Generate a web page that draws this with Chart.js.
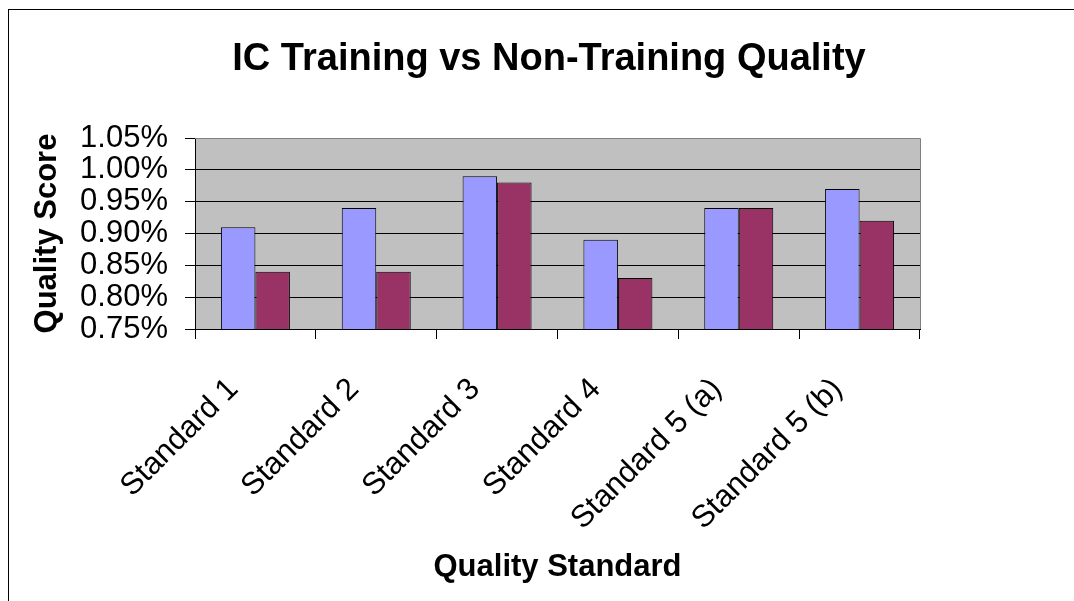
<!DOCTYPE html>
<html>
<head>
<meta charset="utf-8">
<title>IC Training vs Non-Training Quality</title>
<script src="https://cdn.jsdelivr.net/npm/chart.js@4.4.1/dist/chart.umd.min.js"></script>
<style>
    html, body { margin: 0; padding: 0; background: #fff; overflow: hidden; }
    #wrap { position: relative; width: 1074px; height: 601px; }
    #frame {
        position: absolute; left: 8px; top: 9px; width: 2000px; height: 2000px;
        border-left: 1px solid #000; border-top: 1px solid #000; pointer-events: none;
    }
</style>
</head>
<body>
<div id="wrap">
    <canvas id="qualityChart" width="1074" height="601"></canvas>
    <div id="frame"></div>
</div>
<script>
// Chart data (values in %)
const standards = ['Standard 1', 'Standard 2', 'Standard 3', 'Standard 4', 'Standard 5 (a)', 'Standard 5 (b)'];
const trainingScores = [0.91, 0.94, 0.99, 0.89, 0.94, 0.97];
const nonTrainingScores = [0.84, 0.84, 0.98, 0.83, 0.94, 0.92];
const yTickLabels = ['0.75%', '0.80%', '0.85%', '0.90%', '0.95%', '1.00%', '1.05%'];

const FONT = '"Liberation Sans", Arial, Helvetica, sans-serif';
const ctx = document.getElementById('qualityChart').getContext('2d');
let qualityChart;

// gray plot area + gray top/right border, like the old Excel chart
const plotAreaPlugin = {
    id: 'plotArea',
    beforeDraw(chart) {
        const a = chart.chartArea;
        const c = chart.ctx;
        c.save();
        c.fillStyle = '#C0C0C0';
        c.fillRect(a.left, a.top, a.right - a.left, a.bottom - a.top);
        c.restore();
    },
    afterDatasetsDraw(chart) {
        const a = chart.chartArea;
        const c = chart.ctx;
        c.save();
        c.strokeStyle = '#808080';
        c.lineWidth = 1;
        c.beginPath();
        c.moveTo(a.left, Math.round(a.top) + 0.5);
        c.lineTo(Math.round(a.right) + 0.5, Math.round(a.top) + 0.5);
        c.lineTo(Math.round(a.right) + 0.5, a.bottom);
        c.stroke();
        c.restore();
    }
};

function initQualityChart() {
    qualityChart = new Chart(ctx, {
        type: 'bar',
        data: {
            labels: standards,
            datasets: [{
                label: 'IC Training',
                data: trainingScores,
                backgroundColor: '#9999FF',
                borderColor: '#000000',
                borderWidth: 1,
                borderSkipped: false
            }, {
                label: 'Non-Training',
                data: nonTrainingScores,
                backgroundColor: '#993366',
                borderColor: '#000000',
                borderWidth: 1,
                borderSkipped: false
            }]
        },
        options: {
            responsive: false,
            animation: false,
            datasets: {
                bar: { categoryPercentage: 0.571, barPercentage: 1.0 }
            },
            layout: {
                padding: { top: 0, left: 29, right: 5, bottom: 15 }
            },
            scales: {
                x: {
                    grid: {
                        offset: true,
                        drawOnChartArea: false,
                        color: '#000',
                        tickLength: 10
                    },
                    border: { color: '#000', width: 1 },
                    ticks: {
                        color: '#000',
                        font: { family: FONT, size: 31 },
                        minRotation: 45,
                        maxRotation: 45,
                        padding: 32,
                        labelOffset: -22
                    },
                    title: {
                        display: true,
                        text: 'Quality Standard',
                        color: '#000',
                        font: { family: FONT, size: 31, weight: 'bold', lineHeight: 1.2 },
                        padding: 0
                    },
                    afterFit(scale) { scale.height = 601 - 329 - 15; }
                },
                y: {
                    min: 0.75,
                    max: 1.05,
                    grid: {
                        color: (c) => (c.index === yTickLabels.length - 1 ? '#808080' : '#000'),
                        tickColor: '#000',
                        tickLength: 10
                    },
                    border: { color: '#000', width: 1 },
                    ticks: {
                        stepSize: 0.05,
                        autoSkip: false,
                        color: '#000',
                        font: { family: FONT, size: 31, lineHeight: 0.9 },
                        padding: 17,
                        callback: (value, index) => yTickLabels[index]
                    },
                    title: {
                        display: true,
                        text: 'Quality Score',
                        color: '#000',
                        font: { family: FONT, size: 31, weight: 'bold', lineHeight: 1.2 },
                        padding: 0
                    },
                    afterFit(scale) { scale.width = 195 - 29; }
                },
                // empty spacer axis on the right, keeps the plot narrower than the title
                spacer: {
                    type: 'linear',
                    position: 'right',
                    grid: { display: false },
                    border: { display: false },
                    ticks: { display: false },
                    afterFit(scale) { scale.width = 1074 - 5 - 920; }
                }
            },
            plugins: {
                legend: { display: false },
                tooltip: { enabled: false },
                title: {
                    display: true,
                    text: 'IC Training vs Non-Training Quality',
                    color: '#000',
                    font: { family: FONT, size: 38, weight: 'bold', lineHeight: 1.2 },
                    padding: { top: 37, bottom: 55.4 }
                }
            }
        },
        plugins: [plotAreaPlugin]
    });
}

document.addEventListener('DOMContentLoaded', () => {
    initQualityChart();
});
</script>
</body>
</html>
